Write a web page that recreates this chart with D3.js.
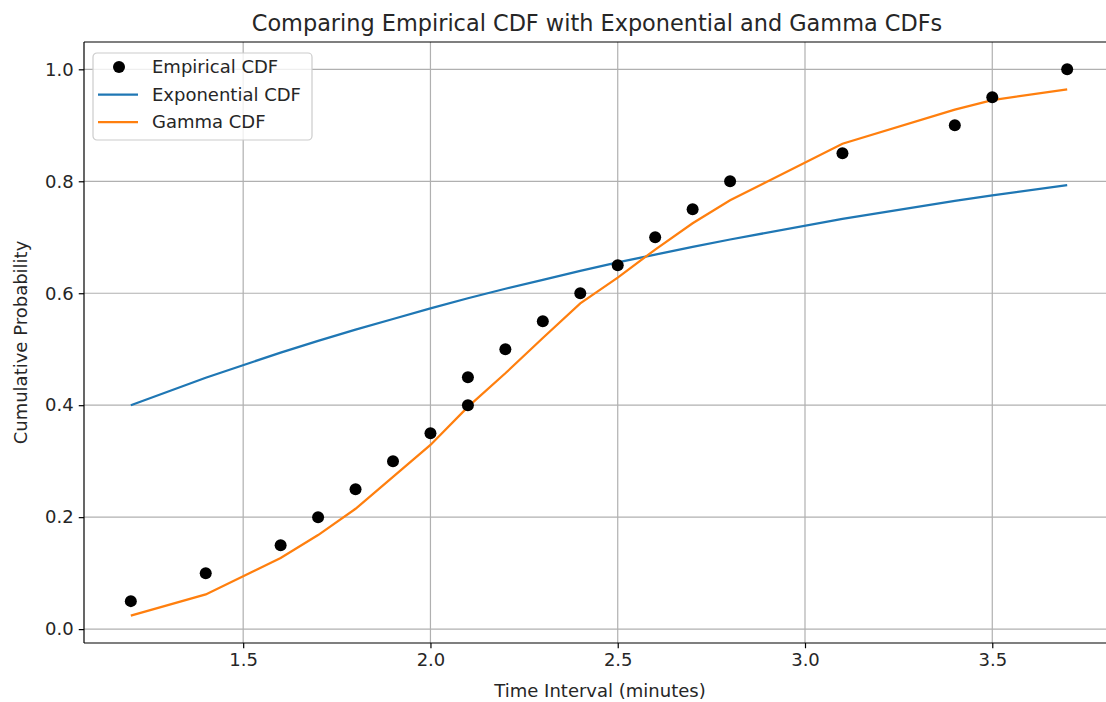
<!DOCTYPE html>
<meta charset="utf-8">
<script src="https://d3js.org/d3.v7.min.js"></script>
<style>
  html, body { margin: 0; padding: 0; background: #fff; overflow: hidden; }
  svg { display: block; }
  text { font-family: "DejaVu Sans", sans-serif; fill: #262626; }
</style>
<div id="my_dataviz"></div>
<script>

// empirical points (sorted intervals, step 1/20)
var empX = [1.2, 1.4, 1.6, 1.7, 1.8, 1.9, 2.0, 2.1, 2.1, 2.2, 2.3, 2.4, 2.5, 2.6, 2.7, 2.8, 3.1, 3.4, 3.5, 3.7];
var empY = [0.05, 0.10, 0.15, 0.20, 0.25, 0.30, 0.35, 0.40, 0.45, 0.50, 0.55, 0.60, 0.65, 0.70, 0.75, 0.80, 0.85, 0.90, 0.95, 1.00];

// fitted curves, read at each distinct x
var curveX = [1.2, 1.4, 1.6, 1.7, 1.8, 1.9, 2.0, 2.1, 2.2, 2.3, 2.4, 2.5, 2.6, 2.7, 2.8, 3.1, 3.4, 3.5, 3.7];
var expoY  = [0.400, 0.449, 0.494, 0.515, 0.535, 0.554, 0.573, 0.591, 0.608, 0.624, 0.640, 0.655, 0.669, 0.683, 0.696, 0.733, 0.765, 0.775, 0.793];
var gammaY = [0.024, 0.062, 0.127, 0.168, 0.215, 0.272, 0.329, 0.397, 0.457, 0.520, 0.582, 0.628, 0.678, 0.725, 0.766, 0.867, 0.928, 0.945, 0.964];

var xTicks = [1.5, 2.0, 2.5, 3.0, 3.5];
var yTicks = [0.0, 0.2, 0.4, 0.6, 0.8, 1.0];

var legendNames = ["Empirical CDF", "Exponential CDF", "Gamma CDF"];

// figure size and axes box (right side runs past the picture edge)
var W = 1106, H = 702;
var margin = {top: 42, right: -8, bottom: 59, left: 84},
    width = W - margin.left - margin.right,
    height = H - margin.top - margin.bottom;

var svg = d3.select("#my_dataviz")
  .append("svg")
    .attr("width", W)
    .attr("height", H);

var g = svg.append("g")
    .attr("transform", "translate(" + margin.left + "," + margin.top + ")");

var x = d3.scaleLinear().domain([1.075, 3.825]).range([0, width]);
var y = d3.scaleLinear().domain([-0.0248, 1.0488]).range([height, 0]);

// grid
g.append("g").selectAll("line").data(xTicks).enter().append("line")
  .attr("x1", function(d) { return x(d); }).attr("x2", function(d) { return x(d); })
  .attr("y1", 0).attr("y2", height)
  .attr("stroke", "#b0b0b0").attr("stroke-width", 1.2);
g.append("g").selectAll("line").data(yTicks).enter().append("line")
  .attr("y1", function(d) { return y(d); }).attr("y2", function(d) { return y(d); })
  .attr("x1", 0).attr("x2", width)
  .attr("stroke", "#b0b0b0").attr("stroke-width", 1.2);

// axes
var xAxis = g.append("g")
  .attr("transform", "translate(0," + height + ")")
  .call(d3.axisBottom(x).tickValues(xTicks).tickFormat(d3.format(".1f")).tickSize(5.25).tickPadding(5));
var yAxis = g.append("g")
  .call(d3.axisLeft(y).tickValues(yTicks).tickFormat(d3.format(".1f")).tickSize(5.25).tickPadding(5));
[xAxis, yAxis].forEach(function(a) {
  a.select(".domain").remove();
  a.selectAll(".tick line").attr("stroke", "#000").attr("stroke-width", 1.2);
  a.selectAll(".tick text").attr("font-size", 18).attr("fill", "#262626")
    .attr("font-family", "DejaVu Sans, sans-serif");
});

// spines: left, top, bottom (right one is off the picture)
var spines = [[0, 0, 0, height], [0, 0, width, 0], [0, height, width, height]];
g.append("g").selectAll("line").data(spines).enter().append("line")
  .attr("x1", function(d) { return d[0]; }).attr("y1", function(d) { return d[1]; })
  .attr("x2", function(d) { return d[2]; }).attr("y2", function(d) { return d[3]; })
  .attr("stroke", "#000").attr("stroke-width", 1.2);

// lines
var line = d3.line()
  .x(function(d) { return x(d[0]); })
  .y(function(d) { return y(d[1]); });

g.append("path")
  .datum(d3.zip(curveX, expoY))
  .attr("fill", "none").attr("stroke", "#1f77b4").attr("stroke-width", 2.25)
  .attr("d", line);

g.append("path")
  .datum(d3.zip(curveX, gammaY))
  .attr("fill", "none").attr("stroke", "#ff7f0e").attr("stroke-width", 2.25)
  .attr("d", line);

// empirical markers
g.append("g").selectAll("circle").data(d3.zip(empX, empY)).enter().append("circle")
  .attr("cx", function(d) { return x(d[0]); })
  .attr("cy", function(d) { return y(d[1]); })
  .attr("r", 6)
  .attr("fill", "#000");

// titles
svg.append("text")
  .attr("x", 597).attr("y", 31)
  .attr("text-anchor", "middle").attr("font-size", 22.4)
  .text("Comparing Empirical CDF with Exponential and Gamma CDFs");

svg.append("text")
  .attr("x", 600).attr("y", 697)
  .attr("text-anchor", "middle").attr("font-size", 18)
  .text("Time Interval (minutes)");

svg.append("text")
  .attr("transform", "translate(27," + (margin.top + height / 2) + ") rotate(-90)")
  .attr("text-anchor", "middle").attr("font-size", 18)
  .text("Cumulative Probability");

// legend
var leg = svg.append("g").attr("transform", "translate(93,53)");
leg.append("rect")
  .attr("width", 219).attr("height", 87).attr("rx", 4)
  .attr("fill", "#fff").attr("fill-opacity", 0.8)
  .attr("stroke", "#cccccc").attr("stroke-width", 1.2);

legendNames.forEach(function(name, i) {
  var cy = 14 + i * 27.5;
  if (i === 0) {
    leg.append("circle").attr("cx", 26).attr("cy", cy).attr("r", 6).attr("fill", "#000");
  } else {
    leg.append("line").attr("x1", 5).attr("x2", 45).attr("y1", cy).attr("y2", cy)
      .attr("stroke", i === 1 ? "#1f77b4" : "#ff7f0e").attr("stroke-width", 2.25);
  }
  leg.append("text").attr("x", 59).attr("y", cy).attr("dy", "0.35em")
    .attr("font-size", 18).text(name);
});

</script>
